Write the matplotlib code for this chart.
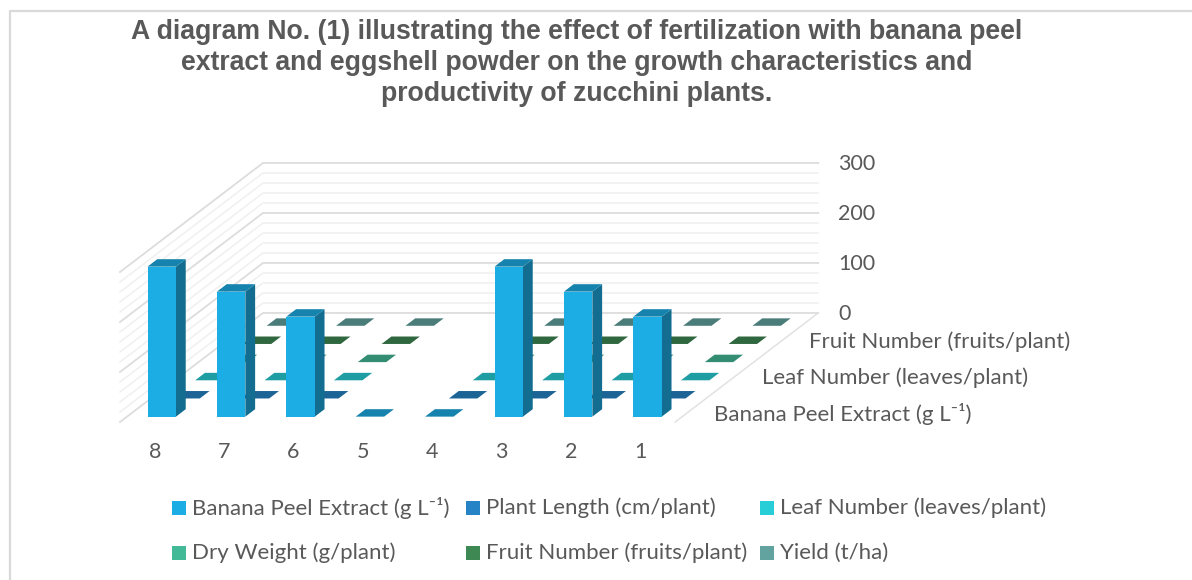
import matplotlib
matplotlib.use("Agg")
import matplotlib.pyplot as plt
import numpy as np
from matplotlib.colors import to_rgb
from matplotlib.patches import Polygon, Rectangle

plt.rcParams['font.family'] = ['Lato', 'DejaVu Sans']

# Data
categories = ['8', '7', '6', '5', '4', '3', '2', '1']
series = ['Banana Peel Extract (g L\u207b\u00b9)', 'Plant Length (cm/plant)', 'Leaf Number (leaves/plant)',
          'Dry Weight (g/plant)', 'Fruit Number (fruits/plant)', 'Yield (t/ha)']
colors = ['#1CADE4', '#2683C6', '#27CED7', '#42BA97', '#3E8853', '#62A39F']
banana = [300, 250, 200, 0, 0, 300, 250, 200]
length = [0, 0, 0, np.nan, 0, 0, 0, 0]
leaves = [0, 0, 0, np.nan, 0, 0, 0, 0]
dry = [0, 0, 0, np.nan, 0, 0, 0, 0]
fruits = [0, 0, 0, np.nan, 0, 0, 0, 0]
yields = [0, 0, 0, np.nan, 0, 0, 0, 0]
values = [banana, length, leaves, dry, fruits, yields]
yticks = [0, 100, 200, 300]
depth_labels = {0: series[0], 2: series[2], 4: series[4]}
title = ('A diagram No. (1) illustrating the effect of fertilization with banana peel\n'
         'extract and eggshell powder on the growth characteristics and\n'
         'productivity of zucchini plants.')

text_color = '#595959'
label_size = 16
bar_frac = 0.41


def proj(u, d, v=0):
    # oblique projection, u along categories, d into the depth, v up
    return 120 + u * 69.4 + d * 23.83, 422 - d * 18.17 - v * 0.5


def shade(color, f):
    return tuple(c * f for c in to_rgb(color))


fig = plt.figure(figsize=(11.92, 5.8), dpi=100)
ax = fig.add_axes([0, 0, 1, 1])
ax.set_xlim(0, 1192)
ax.set_ylim(580, 0)
ax.axis('off')

# Outer frame, only top and left are inside the picture
ax.plot([10, 10, 1192], [580, 11, 11], color='#D9D9D9', lw=1.6)

# Walls and gridlines
nd = len(series)
nc = len(categories)
for v in range(0, 301, 20):
    major = v % 100 == 0
    col = '#DDDDDD' if major else '#F0F0F0'
    lw = 1.3 if major else 1.1
    ax.plot(*zip(proj(0, 0, v), proj(0, nd, v), proj(nc, nd, v)), color=col, lw=lw)
ax.plot(*zip(proj(nc, nd), proj(nc, 0)), color='#E2E2E2', lw=1.1)

# Bars, from the back row to the front
for d in range(nd - 1, -1, -1):
    for c in range(nc):
        v = values[d][c]
        if np.isnan(v):
            continue
        col = colors[d]
        u0, u1 = c + 0.5 - bar_frac / 2, c + 0.5 + bar_frac / 2
        d0, d1 = d + 0.5 - bar_frac / 2, d + 0.5 + bar_frac / 2
        if v > 0:
            ax.add_patch(Polygon([proj(u1, d0), proj(u1, d1), proj(u1, d1, v), proj(u1, d0, v)],
                                 facecolor=shade(col, 0.63), edgecolor='none', zorder=3))
            ax.add_patch(Polygon([proj(u0, d0), proj(u1, d0), proj(u1, d0, v), proj(u0, d0, v)],
                                 facecolor=col, edgecolor='none', zorder=3))
        ax.add_patch(Polygon([proj(u0, d0, v), proj(u1, d0, v), proj(u1, d1, v), proj(u0, d1, v)],
                             facecolor=shade(col, 0.76), edgecolor='none', zorder=3))

# Axis labels
for v in yticks:
    x, y = proj(nc, nd, v)
    ax.text(838, y + 1.5, str(v), color=text_color, fontsize=15.5, ha='left', va='center')
for c, name in enumerate(categories):
    x, y = proj(c + 0.5, 0)
    ax.text(x, 451.5, name, color=text_color, fontsize=15.5, ha='center', va='center')
for d, name in depth_labels.items():
    x, y = proj(nc, d + 0.5)
    ax.text(x + 27, y + 1, name, color=text_color, fontsize=label_size, ha='left', va='center')

ax.text(577, 63, title, color=text_color, fontsize=19.15, fontweight='bold', family='Liberation Sans',
        ha='center', va='center', linespacing=1.26)

# Legend
legend_x = [172, 466, 760, 172, 466, 760]
legend_y = [508, 508, 508, 553, 553, 553]
for name, col, x, y in zip(series, colors, legend_x, legend_y):
    ax.add_patch(Rectangle((x, y - 7), 14, 14, facecolor=col, edgecolor='none'))
    ax.text(x + 20, y, name, color=text_color, fontsize=label_size, ha='left', va='center')

fig.savefig('out.png', dpi=100)
